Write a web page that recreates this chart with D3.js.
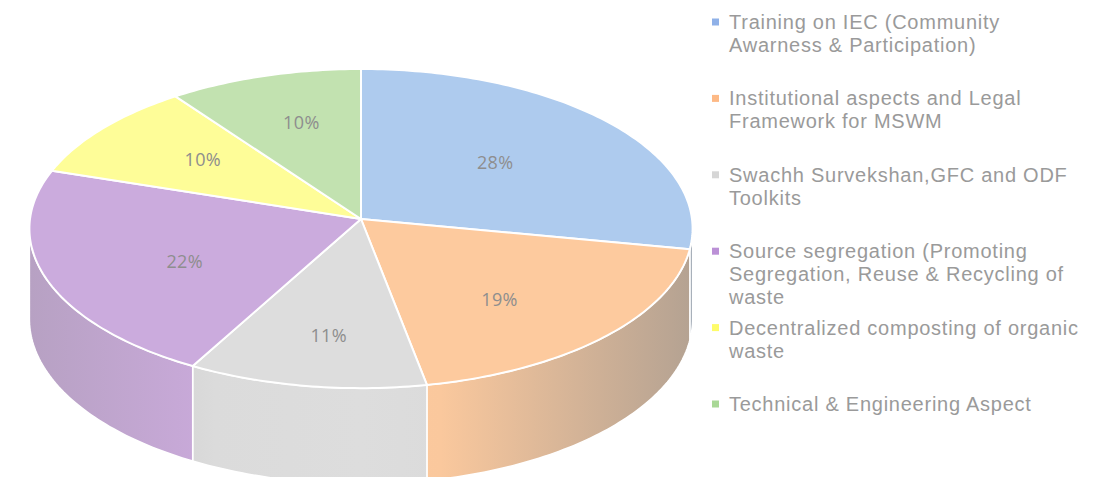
<!DOCTYPE html>
<html>
<head>
<meta charset="utf-8">
<script src="https://cdn.jsdelivr.net/npm/d3@7"></script>
<style>
  body { margin: 0; background: #fff; }
  svg { display: block; font-family: 'Open Sans', sans-serif; }
  .legend text { font-family: 'Liberation Sans', Arial, sans-serif; }
</style>
</head>
<body>
<svg id="chart"></svg>
<script>
// categories (legend text, line breaks as in the picture)
const categories = [
  'Training on IEC (Community\nAwarness & Participation)',
  'Institutional aspects and Legal\nFramework for MSWM',
  'Swachh Survekshan,GFC and ODF\nToolkits',
  'Source segregation (Promoting\nSegregation, Reuse & Recycling of\nwaste',
  'Decentralized composting of organic\nwaste',
  'Technical & Engineering Aspect',
];
const shares = [28, 19, 11, 22, 10, 10];
const topColors = ['#aecbee', '#fdca9e', '#dddddd', '#cbabdd', '#fefd98', '#c2e2b0'];
const markerColors = ['#8fb1e8', '#fdb985', '#d6d6d6', '#bb90d6', '#fefc6a', '#a9d896'];

const width = 1110;
const height = 477;

const pie3d = {
  cx: 361, cy: 219, rx: 331, ry: 159, depth: 90, persp: 0.06,
};

const svg = d3.select('#chart')
  .attr('width', width)
  .attr('height', height);

const color = d3.scaleOrdinal().domain(categories).range(topColors);
const marker = d3.scaleOrdinal().domain(categories).range(markerColors);

const arcs = d3.pie().sort(null).value((d) => d.v)(categories.map((c, i) => ({ c, v: shares[i] })));

// project a point of the disc (angle from 12 o'clock, clockwise) with a little perspective
function proj(theta, r, dz) {
  const c = Math.cos(theta) * r;
  const s = 1 / (1 + pie3d.persp * c);
  return [
    pie3d.cx + pie3d.rx * r * Math.sin(theta) * s,
    pie3d.cy - pie3d.ry * c * s + dz * s,
  ];
}

function arcPoints(a0, a1, dz) {
  const n = Math.max(2, Math.ceil((Math.abs(a1 - a0) * 180) / Math.PI));
  return d3.range(n + 1).map((k) => proj(a0 + ((a1 - a0) * k) / n, 1, dz));
}

const line = d3.line();
const defs = svg.append('defs');

// side gradients: darker toward both edges of the cylinder
arcs.forEach((d, i) => {
  const base = color(d.data.c);
  const mix = d3.interpolateRgb(base, '#8c8c8c');
  const g = defs.append('linearGradient')
    .attr('id', `side${i}`)
    .attr('gradientUnits', 'userSpaceOnUse')
    .attr('x1', pie3d.cx - pie3d.rx).attr('x2', pie3d.cx + pie3d.rx)
    .attr('y1', 0).attr('y2', 0);
  [[0, 0.32], [0.28, 0.02], [0.5, 0], [0.62, 0.03], [1, 0.65]].forEach(([o, t]) => {
    g.append('stop').attr('offset', o).attr('stop-color', mix(t));
  });
});

// visible front of the side wall
const fromA = Math.acos(-pie3d.persp);
const toA = 2 * Math.PI - fromA;

const sides = svg.append('g');
arcs.forEach((d, i) => {
  const t0 = Math.max(d.startAngle, fromA);
  const t1 = Math.min(d.endAngle, toA);
  if (t1 <= t0) return;
  const pts = arcPoints(t0, t1, 0).concat(arcPoints(t1, t0, pie3d.depth));
  sides.append('path')
    .attr('d', `${line(pts)}Z`)
    .attr('fill', `url(#side${i})`)
    .attr('stroke', '#fff')
    .attr('stroke-width', 1.5)
    .attr('stroke-linejoin', 'round');
});

// top faces
const tops = svg.append('g');
arcs.forEach((d) => {
  const pts = [proj(0, 0, 0)].concat(arcPoints(d.startAngle, d.endAngle, 0));
  tops.append('path')
    .attr('d', `${line(pts)}Z`)
    .attr('fill', color(d.data.c))
    .attr('stroke', '#fff')
    .attr('stroke-width', 2)
    .attr('stroke-linejoin', 'round');
});

// percent labels near the sector centroid
const labels = svg.append('g');
arcs.forEach((d) => {
  const a = d.endAngle - d.startAngle;
  const mid = (d.startAngle + d.endAngle) / 2;
  const r = (4 * Math.sin(a / 2)) / (3 * a);
  const x = proj(mid, r * 0.92, 0)[0];
  const y = proj(mid, r * 1.05, 0)[1];
  labels.append('text')
    .attr('x', x)
    .attr('y', y + 4)
    .attr('dy', '0.35em')
    .attr('text-anchor', 'middle')
    .attr('font-size', 18)
    .attr('letter-spacing', 0.4)
    .attr('fill', '#8e8e8e')
    .text(`${d.data.v}%`);
});

// legend
const legendY = d3.scalePoint().domain(categories).range([22, 404]);
const legend = svg.append('g').attr('class', 'legend');
categories.forEach((c) => {
  const y = legendY(c);
  legend.append('rect')
    .attr('x', 712).attr('y', y - 3.5)
    .attr('width', 7).attr('height', 7)
    .attr('fill', marker(c));
  c.split('\n').forEach((ln, k) => {
    legend.append('text')
      .attr('x', 729)
      .attr('y', y + k * 23)
      .attr('dy', '0.35em')
      .attr('font-size', 20)
      .attr('letter-spacing', 0.75)
      .attr('fill', '#9a9a9a')
      .text(ln);
  });
});
</script>
</body>
</html>
